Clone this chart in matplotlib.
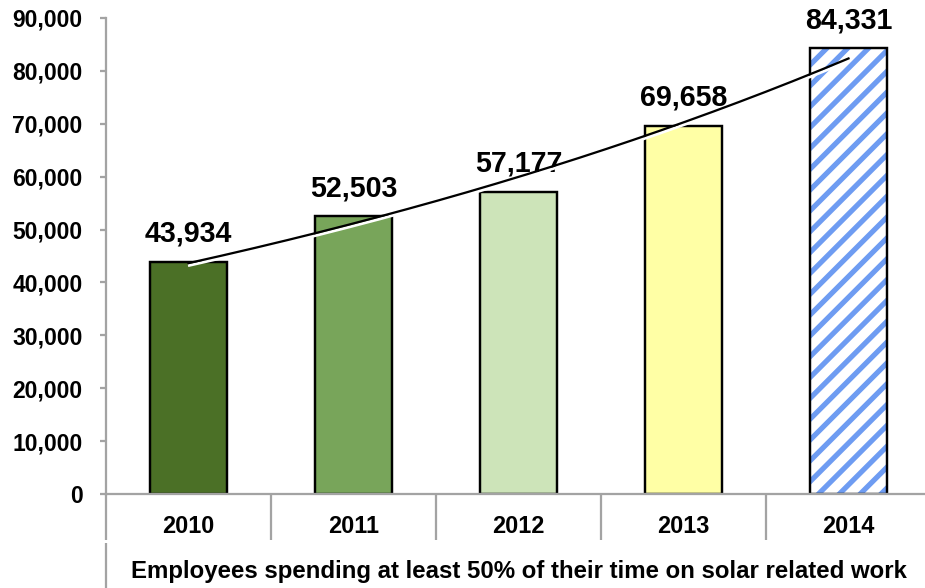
import numpy as np
import matplotlib
matplotlib.use("Agg")
import matplotlib.pyplot as plt
import matplotlib.patheffects as pe
from matplotlib.ticker import FuncFormatter

# Solar workforce by year
years = ["2010", "2011", "2012", "2013", "2014"]
employees = [43934, 52503, 57177, 69658, 84331]
bar_colors = ["#4b7026", "#78a55a", "#cde4b9", "#ffffa5", "#ffffff"]
axis_title = "Employees spending at least 50% of their time on solar related work"

plt.rcParams["font.family"] = ["Liberation Sans", "DejaVu Sans"]
plt.rcParams["font.weight"] = "bold"
plt.rcParams["hatch.linewidth"] = 3.0

DPI = 125
fig = plt.figure(figsize=(925 / DPI, 588 / DPI), dpi=DPI)
ax = fig.add_axes([106 / 925, 94 / 588, 825 / 925, 476 / 588])

x = np.arange(len(years))
bar_w = 0.47
bars = ax.bar(x, employees, width=bar_w, color=bar_colors,
              edgecolor="black", linewidth=1.4, zorder=2)
# last year drawn with blue diagonal stripes
bars[-1].set_edgecolor("#6e9cf2")
bars[-1].set_linewidth(0)
bars[-1].set_hatch("//")
ax.bar(x[-1:], employees[-1:], width=bar_w, fill=False,
       edgecolor="black", linewidth=1.4, zorder=2.5)

# value labels above each bar
for xi, v in zip(x, employees):
    ax.annotate(f"{v:,}", (xi, v), xytext=(0, 11.5), textcoords="offset points",
                ha="center", va="baseline", fontsize=16.5, fontweight="bold")

# exponential trend fitted on log values
b, a = np.polyfit(x, np.log(employees), 1)
tx = np.linspace(0, len(years) - 1, 200)
ax.plot(tx, np.exp(a + b * tx), color="black", linewidth=1.3, zorder=3,
        path_effects=[pe.Stroke(linewidth=1.6, foreground="white", offset=(0.5, -1.3)),
                      pe.Normal()])

ax.set_xlim(-0.5, len(years) - 0.5)
ax.set_ylim(0, 90000)
ax.set_yticks(np.arange(0, 90001, 10000))
ax.yaxis.set_major_formatter(FuncFormatter(lambda v, _: f"{int(v):,}"))

grey = "#a3a3a3"
for side in ["top", "right"]:
    ax.spines[side].set_visible(False)
for side in ["left", "bottom"]:
    ax.spines[side].set_color(grey)
    ax.spines[side].set_linewidth(1.3)

ax.tick_params(axis="y", length=3.5, width=1.3, color=grey, labelsize=13.2, pad=10)
ax.tick_params(axis="x", length=0, labelbottom=False)
for lab in ax.get_yticklabels():
    lab.set_fontweight("bold")

# two-level category axis
trans = ax.get_xaxis_transform()
for edge in np.arange(-0.5, len(years), 1.0):
    ax.plot([edge, edge], [0, -0.0966], color=grey, linewidth=1.3, transform=trans,
            clip_on=False, solid_capstyle="butt")
ax.plot([-0.5, -0.5], [-0.103, -0.2], color=grey, linewidth=1.3, transform=trans,
        clip_on=False, solid_capstyle="butt")

for xi, yr in zip(x, years):
    ax.text(xi, -0.069, yr, transform=trans, ha="center", va="center",
            fontsize=13.5, fontweight="bold")
ax.text(2.0, -0.162, axis_title, transform=trans, ha="center", va="center",
        fontsize=13.8, fontweight="bold")

fig.savefig("out.png", dpi=DPI)
